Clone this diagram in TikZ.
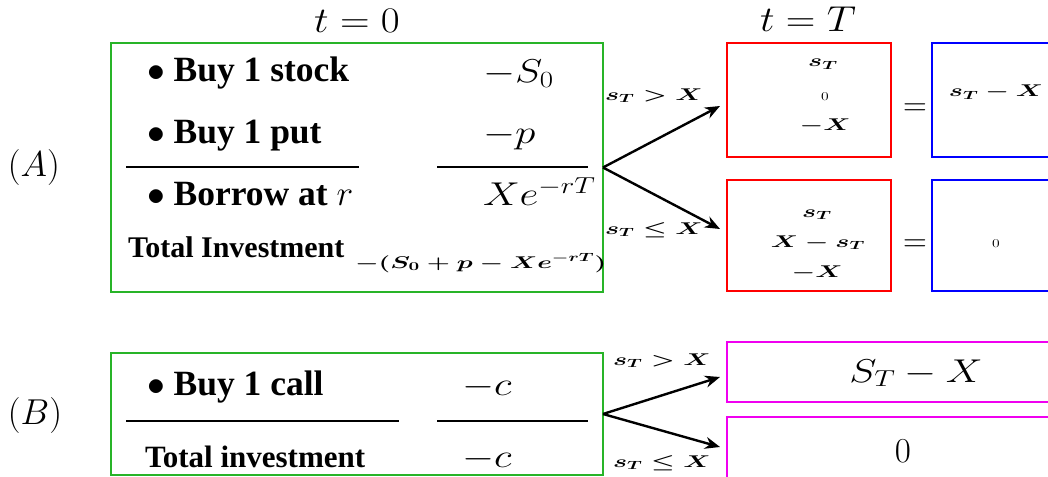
\documentclass[tikz,border=0pt]{standalone}
\usepackage{fix-cm}
\usepackage[no-math]{fontspec}
\setmainfont{Liberation Serif}
\usepackage{graphicx}
\usetikzlibrary{arrows.meta}
\definecolor{grn}{RGB}{40,180,40}
\definecolor{mag}{RGB}{240,0,240}
\newcommand\BigM[1]{\scalebox{1.25}[1]{\fontsize{33}{40}\selectfont$#1$}}
\newcommand\SmM[2][1.56]{\scalebox{#1}[1]{\fontsize{17}{20}\selectfont\boldmath$#2$}}
\newcommand\HdM[1]{\scalebox{1.14}[1]{\fontsize{36}{42}\selectfont$#1$}}
\begin{document}
\begin{tikzpicture}[x=1pt,y=-1pt,
  every node/.style={inner sep=0pt, outer sep=0pt},
  txt/.style={anchor=base west, font=\fontsize{35.5}{42}\selectfont\bfseries},
  tot/.style={anchor=base west, font=\fontsize{30}{36}\selectfont\bfseries},
  totb/.style={anchor=base west, font=\fontsize{31}{37}\selectfont\bfseries},
  lbl/.style={anchor=base west},
  mth/.style={anchor=base},
  rule/.style={line width=2.6pt},
  arr/.style={line width=2.4pt, -{Stealth[length=15pt,width=12pt]}},
  gbox/.style={draw=grn, line width=1.6pt},
  rbox/.style={draw=red, line width=1.6pt},
  bbox/.style={draw=blue, line width=1.6pt},
  mbox/.style={draw=mag, line width=1.6pt},
]
\clip (0,0) rectangle (1048,476);

% headings
\node[mth] (t0) at (357,33) {\HdM{t=0}};
\node[mth] (tT) at (808,32) {\HdM{t=T}};
\node[lbl] (labA) at (8,176) {\fontsize{36}{42}\selectfont$(A)$};
\node[lbl] (labB) at (8,424) {\fontsize{36}{42}\selectfont$(B)$};

% boxes
\node[gbox, minimum width=492pt, minimum height=249pt] (boxA) at (357,167.5) {};
\node[gbox, minimum width=492pt, minimum height=122pt] (boxB) at (357,414) {};
\node[rbox, minimum width=164pt, minimum height=114pt] (red1) at (809,100) {};
\node[rbox, minimum width=164pt, minimum height=111pt] (red2) at (809,235.5) {};
\node[bbox, minimum width=158pt, minimum height=114pt] (blue1) at (1011,100) {};
\node[bbox, minimum width=158pt, minimum height=111pt] (blue2) at (1011,235.5) {};
\node[mbox, minimum width=383pt, minimum height=60pt] (mag1) at (918.5,372) {};
\node[mbox, minimum width=383pt, minimum height=83pt] (mag2) at (918.5,458.5) {};

% box A contents
\node[txt] (stock) at (147,82) {$\bullet$ Buy 1 stock};
\node[txt] (put) at (147,143) {$\bullet$ Buy 1 put};
\node[txt] (borrow) at (147,205) {$\bullet$ Borrow at $r$};
\node[tot] (totA) at (128,257) {Total Investment};
\node[lbl] (totAv) at (355,268) {\SmM{-(S_0+p-Xe^{-rT})}};
\node[lbl] (s0) at (483,83) {\BigM{-S_0}};
\node[lbl] (pp) at (483,143) {\BigM{-p}};
\node[lbl] (xe) at (483,205) {\BigM{Xe^{-rT}}};
\draw[rule] (126,167) -- (359,167);
\draw[rule] (437,167) -- (588,167);

% box B contents
\node[txt] (call) at (147,395) {$\bullet$ Buy 1 call};
\node[totb] (totB) at (145,467) {Total investment};
\node[lbl] (c1) at (462,395) {\BigM{-c}};
\node[lbl] (c2) at (462,467) {\BigM{-c}};
\draw[rule] (126,421) -- (399,421);
\draw[rule] (437,421) -- (588,421);

% arrows A
\coordinate (a1) at (720,106);
\coordinate (a2) at (720,229);
\draw[arr] (boxA.east) -- (a1);
\draw[arr] (boxA.east) -- (a2);
\node[lbl] (ca1) at (605,100) {\SmM{s_T > X}};
\node[lbl] (ca2) at (605,234) {\SmM{s_T \le X}};

% arrows B
\coordinate (b1) at (720,377);
\coordinate (b2) at (720,447);
\draw[arr] (boxB.east) -- (b1);
\draw[arr] (boxB.east) -- (b2);
\node[lbl] (cb1) at (613,365) {\SmM{s_T > X}};
\node[lbl] (cb2) at (613,467) {\SmM{s_T \le X}};

% red box contents
\node[mth] (r1a) at (823,67) {\SmM{s_T}};
\node[mth] (r1b) at (825,100) {\scalebox{1.3}[1]{\fontsize{12}{14}\selectfont$0$}};
\node[mth] (r1c) at (825,130) {\SmM{-X}};
\node[mth] (r2a) at (817,217) {\SmM{s_T}};
\node[mth] (r2b) at (818,247) {\SmM{X-s_T}};
\node[mth] (r2c) at (817,277) {\SmM{-X}};

% equals
\node[mth] (eq1) at (915,115) {\fontsize{33}{40}\selectfont$=$};
\node[mth] (eq2) at (915,251) {\fontsize{33}{40}\selectfont$=$};

% blue box contents
\node[mth] (bl1) at (996,97) {\SmM{s_T-X}};
\node[mth] (bl2) at (996,247) {\scalebox{1.3}[1]{\fontsize{12}{14}\selectfont$0$}};

% magenta contents
\node[mth] (m1) at (916,382) {\BigM{S_T-X}};
\node[mth] (m2) at (903,462) {\fontsize{35}{42}\selectfont$0$};
\end{tikzpicture}
\end{document}
